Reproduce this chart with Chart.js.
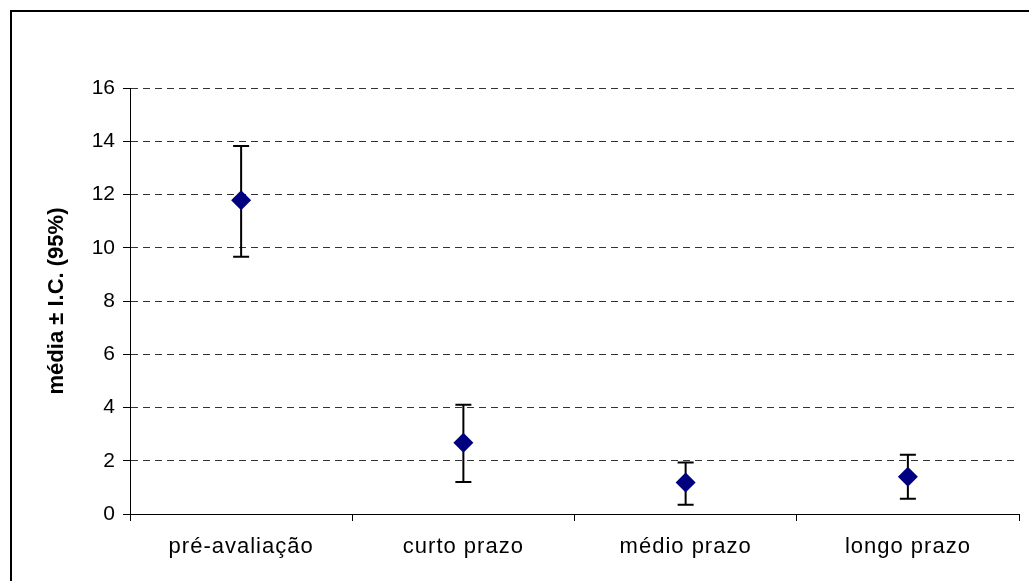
<!DOCTYPE html>
<html>
<head>
<meta charset="utf-8">
<script src="https://cdn.jsdelivr.net/npm/chart.js@4/dist/chart.umd.min.js"></script>
<style>
  html, body { margin: 0; padding: 0; background: #fff; }
  #wrap { width: 1029px; height: 581px; position: relative; }
</style>
</head>
<body>
<div id="wrap"><canvas id="c"></canvas></div>
<script>
const categories = ['pré-avaliação', 'curto prazo', 'médio prazo', 'longo prazo'];
const means = [11.78, 2.68, 1.18, 1.4];
const upperCI = [13.82, 4.1, 1.93, 2.23];
const lowerCI = [9.66, 1.2, 0.35, 0.57];
const yTicks = [0, 2, 4, 6, 8, 10, 12, 14, 16];
const yTitle = 'média ± I.C. (95%)';

const FONT = "'Liberation Sans', Arial, Helvetica, sans-serif";

const errorBars = {
  id: 'errorBars',
  beforeDatasetsDraw(chart) {
    const ctx = chart.ctx;
    const xs = chart.scales.x, ys = chart.scales.y;
    ctx.save();
    ctx.strokeStyle = '#000';
    ctx.lineWidth = 2;
    for (let i = 0; i < categories.length; i++) {
      const x = xs.getPixelForValue(i);
      const yu = ys.getPixelForValue(upperCI[i]);
      const yl = ys.getPixelForValue(lowerCI[i]);
      ctx.beginPath();
      ctx.moveTo(x, yu); ctx.lineTo(x, yl);
      ctx.moveTo(x - 8, yu); ctx.lineTo(x + 8, yu);
      ctx.moveTo(x - 8, yl); ctx.lineTo(x + 8, yl);
      ctx.stroke();
    }
    ctx.restore();
  }
};

// widen the x-axis category labels slightly (the reference text is a bit stretched)
const xLabelSpacing = {
  id: 'xLabelSpacing',
  beforeDraw(chart) {
    const s = chart.scales.x;
    if (s && !s._spacingWrapped) {
      const orig = s.drawLabels;
      s.drawLabels = function (area) {
        const ctx = this.ctx;
        ctx.save();
        try { ctx.letterSpacing = '1px'; } catch (e) {}
        orig.call(this, area);
        ctx.restore();
      };
      s._spacingWrapped = true;
    }
  }
};

const frame = {
  id: 'frame',
  afterDraw(chart) {
    const ctx = chart.ctx;
    ctx.save();
    ctx.strokeStyle = '#000';
    ctx.lineWidth = 2;
    ctx.strokeRect(11, 11, 1200, 1000);
    ctx.restore();
  }
};

new Chart(document.getElementById('c'), {
  type: 'line',
  data: {
    labels: categories,
    datasets: [{
      data: means,
      showLine: false,
      pointStyle: 'rectRot',
      pointRadius: 10,
      pointHoverRadius: 10,
      pointBackgroundColor: '#000080',
      pointBorderColor: '#000080',
      pointBorderWidth: 0
    }]
  },
  options: {
    responsive: true,
    maintainAspectRatio: false,
    animation: false,
    events: [],
    layout: { padding: { left: 0, top: 88, right: 8, bottom: 0 } },
    plugins: { legend: { display: false }, tooltip: { enabled: false } },
    scales: {
      x: {
        type: 'category',
        offset: true,
        grid: { offset: true, drawOnChartArea: false, drawTicks: true, tickLength: 7, color: '#000', tickColor: '#000', lineWidth: 1 },
        border: { display: true, color: '#000', width: 1 },
        ticks: { color: '#000', font: { family: FONT, size: 22 }, padding: 13, maxRotation: 0, autoSkip: false },
        afterFit(s) { s.height = 67; }
      },
      y: {
        min: 0,
        max: 16,
        afterBuildTicks(s) { s.ticks = yTicks.map(v => ({ value: v })); },
        grid: { color: '#333', lineWidth: 1, drawTicks: true, tickLength: 7, tickColor: '#000', tickBorderDash: [] },
        border: { display: true, color: '#000', width: 1, dash: [7, 5] },
        ticks: { color: '#000', font: { family: FONT, size: 21 }, padding: 8 },
        title: { display: true, text: yTitle, color: '#000', font: { family: FONT, size: 22, weight: 'bold' }, padding: { top: 44, bottom: 0 } },
        afterFit(s) { s.width = 130; }
      }
    }
  },
  plugins: [errorBars, xLabelSpacing, frame]
});
</script>
</body>
</html>
